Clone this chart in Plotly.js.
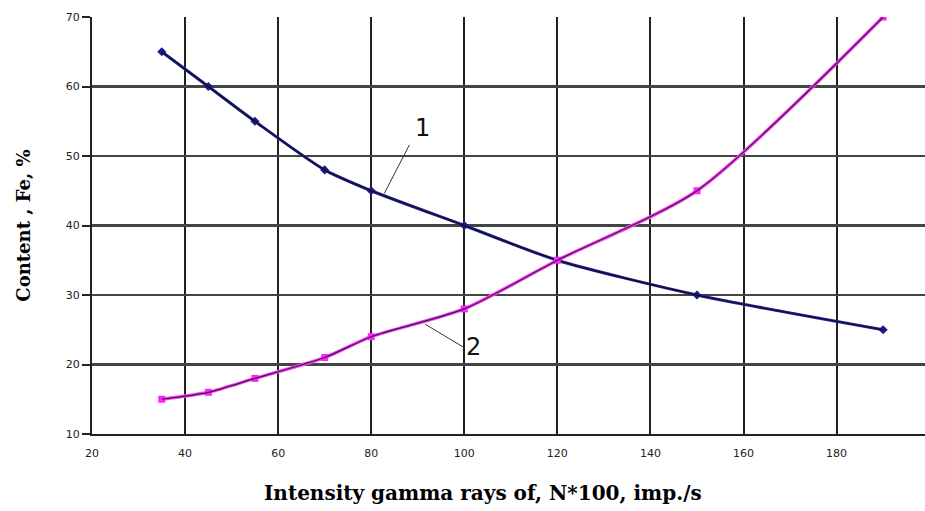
<!DOCTYPE html>
<html>
<head>
<meta charset="utf-8">
<script src="https://cdn.plot.ly/plotly-3.0.1.min.js"></script>
<style>html,body{margin:0;padding:0;overflow:hidden;background:#fff;}</style>
</head>
<body>
<div id="chart" style="width:925px;height:511px;"></div>
<script>
const intensity = [35, 45, 55, 70, 80, 100, 120, 150, 190];
const series1 = [65, 60, 55, 48, 45, 40, 35, 30, 25];
const series2 = [15, 16, 18, 21, 24, 28, 35, 45, 70];
const xTicks = [20, 40, 60, 80, 100, 120, 140, 160, 180];
const yTicks = [10, 20, 30, 40, 50, 60, 70];
const labels = ['1', '2'];
const xTitle = 'Intensity gamma rays of, N*100, imp./s';
const yTitle = 'Content , Fe, %';

const traces = [
  {x: intensity, y: series1, mode: 'lines+markers', line: {color: '#22228a', width: 3, shape: 'spline', smoothing: 0.7},
   marker: {symbol: 'diamond', size: 7, color: '#1a1a80'}, showlegend: false},
  {x: intensity, y: series1, mode: 'lines', line: {color: '#0d0d2a', width: 1.2, shape: 'spline', smoothing: 0.7}, showlegend: false},
  {x: intensity, y: series2, mode: 'lines+markers', line: {color: '#ff44ff', width: 3.5, shape: 'spline', smoothing: 0.7},
   marker: {symbol: 'square', size: 7, color: '#ff22ff'}, showlegend: false},
  {x: intensity, y: series2, mode: 'lines', line: {color: '#3a1a3a', width: 1.2, shape: 'spline', smoothing: 0.7}, showlegend: false}
];

const layout = {
  width: 925, height: 511,
  margin: {l: 92, r: 0, t: 17, b: 77},
  paper_bgcolor: '#fff', plot_bgcolor: '#fff',
  xaxis: {
    range: [20, 199], tickvals: xTicks, ticktext: xTicks.map(String),
    showgrid: true, gridcolor: '#222', gridwidth: 2,
    showline: true, linecolor: '#222', linewidth: 2,
    ticks: '', zeroline: false, ticklabelstandoff: 8,
    tickfont: {family: 'DejaVu Sans', size: 11, color: '#222'}
  },
  yaxis: {
    range: [10, 70], tickvals: yTicks, ticktext: yTicks.map(String),
    showgrid: true, gridcolor: '#444', gridwidth: 2.5,
    showline: true, linecolor: '#222', linewidth: 2,
    ticks: 'outside', ticklen: 8, tickcolor: '#222', tickwidth: 2, zeroline: false,
    tickfont: {family: 'DejaVu Sans', size: 11, color: '#222'},
    title: {text: '<b>' + yTitle + '</b>', font: {family: 'DejaVu Serif', size: 18, color: '#000'}, standoff: 30}
  },
  shapes: [
    {type: 'line', xref: 'x', yref: 'y', x0: 88.2, y0: 51.6, x1: 82.8, y1: 44.6, line: {color: '#333', width: 1}},
    {type: 'line', xref: 'x', yref: 'y', x0: 91.6, y0: 25.8, x1: 99.8, y1: 22.5, line: {color: '#333', width: 1}}
  ],
  annotations: [
    {x: 91, y: 54.1, xref: 'x', yref: 'y', text: labels[0], showarrow: false, font: {family: 'DejaVu Sans', size: 24, color: '#111'}},
    {x: 102, y: 22.5, xref: 'x', yref: 'y', text: labels[1], showarrow: false, font: {family: 'DejaVu Sans', size: 24, color: '#111'}},
    {x: 0.469, y: -0.141, xref: 'paper', yref: 'paper', xanchor: 'center', yanchor: 'middle', text: '<b>' + xTitle + '</b>',
     showarrow: false, font: {family: 'DejaVu Serif', size: 20, color: '#000'}}
  ]
};

Plotly.newPlot('chart', traces, layout, {staticPlot: true, displayModeBar: false});
</script>
</body>
</html>
